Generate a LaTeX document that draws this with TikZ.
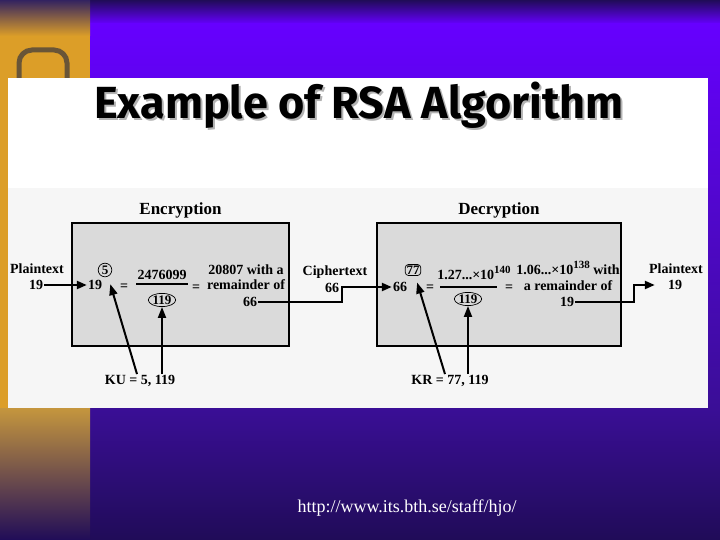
\documentclass[tikz,border=0pt]{standalone}
\usepackage{fontspec}
\setmainfont{Liberation Serif}
\newfontfamily\titlefont{Fira Sans}
\usetikzlibrary{shapes.geometric,arrows.meta,positioning}
\definecolor{slideblue}{RGB}{102,0,255}
\definecolor{slidenavy}{RGB}{32,12,88}
\definecolor{slidedeep}{RGB}{58,14,150}
\definecolor{slidegold}{RGB}{220,158,40}
\definecolor{boxgray}{RGB}{218,218,218}
\definecolor{paper}{RGB}{246,246,246}
\definecolor{lockbrown}{RGB}{105,85,55}
\newcommand{\powr}[1]{\raisebox{6pt}{\fontsize{11}{11}\selectfont #1}}

\begin{document}
\begin{tikzpicture}[x=1pt, y=-1pt,
  txt/.style={font=\bfseries\fontsize{14}{15.5}\selectfont, inner sep=1pt, align=center},
  head/.style={font=\bfseries\fontsize{17}{19}\selectfont, inner sep=1pt},
  opbox/.style={draw, line width=1.5pt, fill=boxgray},
  ring/.style={draw, circle, line width=0.7pt, inner sep=1pt, font=\bfseries\fontsize{13}{14}\selectfont},
  flow/.style={line width=2.3pt, -{Triangle[length=10pt,width=8pt]}},
  keyarrow/.style={line width=2pt, -{Triangle[length=11pt,width=8pt]}}]

  \useasboundingbox (0,0) rectangle (720,540);

  % Slide background
  \fill[slideblue] (0,0) rectangle (720,540);
  \shade[top color=slidenavy, bottom color=slideblue] (90,0) rectangle (720,24);
  \shade[top color=slideblue, bottom color=slidedeep] (90,24) rectangle (720,408);
  \shade[top color=slidedeep, bottom color=slidenavy] (90,408) rectangle (720,540);
  \shade[top color=slidenavy!80!gray, bottom color=slidegold] (0,0) rectangle (90,36);
  \fill[slidegold] (0,36) rectangle (90,408);
  \shade[top color=slidegold!75!gray, bottom color=slidenavy] (0,408) rectangle (90,540);
  \draw[lockbrown, line width=5pt, rounded corners=13pt] (19,140) -- (19,50) -- (67,50) -- (67,140);

  % Panel
  \fill[white] (8,78) rectangle (708,188);
  \fill[paper] (8,188) rectangle (708,408);

  % Title
  \node[font=\titlefont\bfseries\fontsize{45}{50}\selectfont, text=gray!60] (titleShadow) at (361,107) {Example of RSA Algorithm};
  \node[font=\titlefont\bfseries\fontsize{45}{50}\selectfont] (title) at (359,105) {Example of RSA Algorithm};

  % Boxes
  \node[opbox, minimum width=217pt, minimum height=123pt] (encBox) at (180.5,284.5) {};
  \node[opbox, minimum width=244pt, minimum height=123pt] (decBox) at (499,284.5) {};
  \node[head, above=3pt of encBox] (encLabel) {Encryption};
  \node[head, above=3pt of decBox] (decLabel) {Decryption};

  % Encryption
  \node[txt] (ptInLbl) at (37,269) {Plaintext};
  \node[txt] (ptIn) at (36,285) {19};
  \node[txt] (encBase) at (95,285) {19};
  \node[ring] (encExp) at (105,270) {5};
  \node[txt] (encEq1) at (124,287) {=};
  \node[txt] (encNum) at (162,275) {2476099};
  \node[ring, ellipse, inner sep=0.3pt] (encDen) at (162,300) {119};
  \node[txt] (encEq2) at (196,288) {=};
  \node[txt] (encRes) at (246,277) {20807 with a\\remainder of};
  \node[txt] (encOut) at (250,302) {66};
  \draw[line width=1.3pt] ([yshift=-3pt]encNum.south west) -- ([yshift=-3pt]encNum.south east);

  % Ciphertext
  \node[txt] (ctLbl) at (335,272) {Ciphertext};
  \node[txt] (ct) at (332,288) {66};

  % Decryption
  \node[txt] (decIn) at (400,287) {66};
  \node[ring, rectangle, rounded corners=3pt, inner sep=1.2pt] (decExp) at (413,270) {77};
  \node[txt] (decEq1) at (430,288) {=};
  \node[txt] (decNum) at (474,273) {1.27...×10\powr{140}};
  \node[ring, ellipse, inner sep=0.3pt] (decDen) at (468,299) {119};
  \node[txt] (decEq2) at (509,288) {=};
  \node[txt] (decRes) at (568,276) {1.06...×10\powr{138} with\\a remainder of};
  \node[txt] (decOut) at (567,302) {19};
  \draw[line width=1.3pt] (440,287) -- (497,287);
  \node[txt] (ptOutLbl) at (676,269) {Plaintext};
  \node[txt] (ptOut) at (675,285) {19};

  % Flow
  \draw[flow] (ptIn.east) -- (encBase.west);
  \draw[flow] (encOut.east) -- ++(84,0) |- (decIn.west);
  \draw[flow, shorten >=12pt] (decOut.east) -- ++(59,0) |- (ptOut.west);

  % Keys
  \node[txt] (ku) at (140,381) {KU = 5, 119};
  \node[txt] (kr) at (450,381) {KR = 77, 119};
  \draw[keyarrow, shorten >=8pt] ([xshift=-3pt]ku.north) -- (encExp.-65);
  \draw[keyarrow] (ku.north -| encDen.south) -- (encDen.south);
  \draw[keyarrow, shorten >=7pt] ([xshift=-5pt]kr.north) -- (decExp.-70);
  \draw[keyarrow] (kr.north -| decDen.south) -- (decDen.south);

  % Footer
  \node[text=white, font=\fontsize{18}{20}\selectfont] (url) at (407,508) {http://www.its.bth.se/staff/hjo/};
\end{tikzpicture}
\end{document}
